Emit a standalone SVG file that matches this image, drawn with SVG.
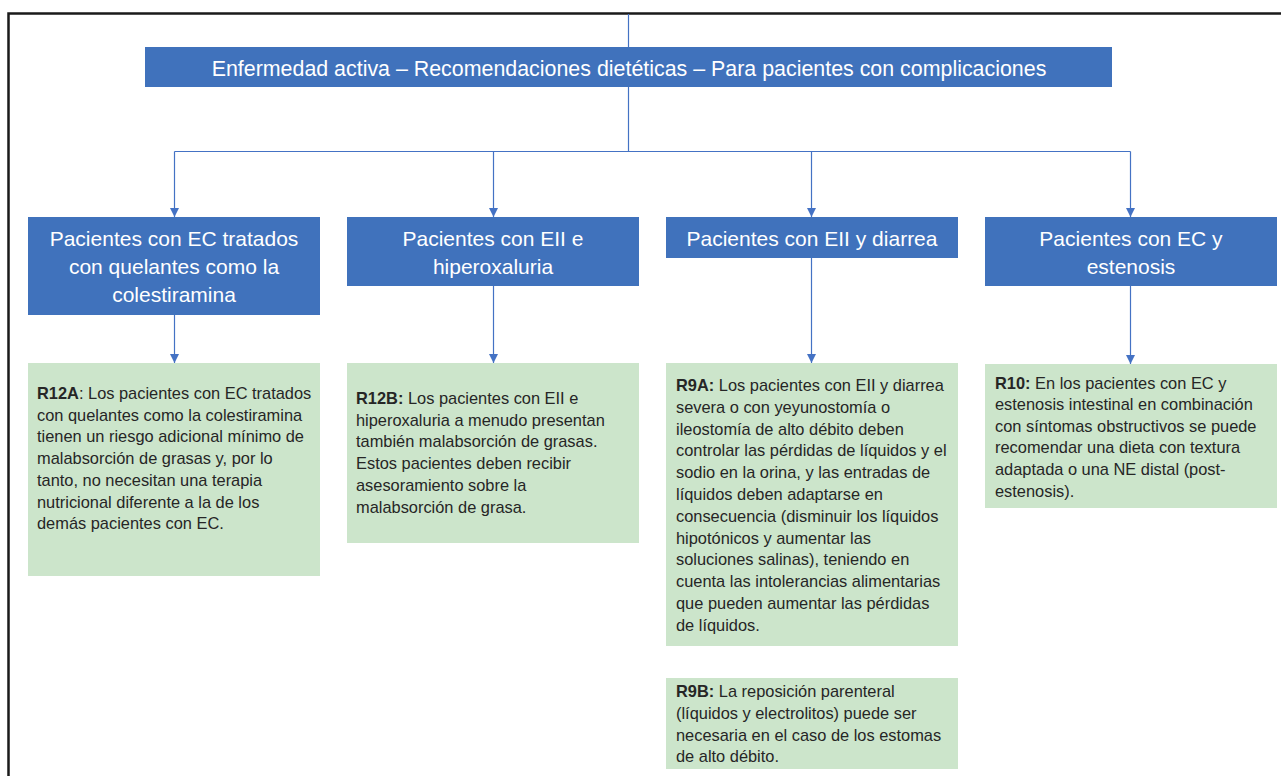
<svg xmlns="http://www.w3.org/2000/svg" width="1281" height="776" viewBox="0 0 1281 776">
<defs>
<style>
.hdr{fill:#4072BC}
.rec{fill:#CCE5CB}
.ht{font-family:"Liberation Sans",Arial,sans-serif;font-size:21px;fill:#ffffff;text-anchor:middle}
.tt{font-size:21.4px}
.bt{font-family:"Liberation Sans",Arial,sans-serif;font-size:16.4px;fill:#262626}
.b{font-weight:bold}
.con{stroke:#4472C4;stroke-width:1.2;fill:none}
.frame{stroke:#1a1a1a;stroke-width:2.5;fill:none}
</style>
<marker id="ah" viewBox="0 0 10 10" refX="10" refY="5" markerWidth="9" markerHeight="9" markerUnits="userSpaceOnUse" orient="auto">
<path d="M0,0 L10,5 L0,10 z" fill="#4472C4"/>
</marker>
</defs>
<rect width="1281" height="776" fill="#ffffff"/>
<path class="frame" d="M8.5,776 L8.5,13.5 L1281,13.5"/>

<g id="connectors">
<path class="con" d="M628.5,14 L628.5,151.5"/>
<path class="con" d="M174.5,151.5 L1130.5,151.5"/>
<path class="con" d="M174.5,151.5 L174.5,217" marker-end="url(#ah)"/>
<path class="con" d="M493.5,151.5 L493.5,217" marker-end="url(#ah)"/>
<path class="con" d="M811.5,151.5 L811.5,217" marker-end="url(#ah)"/>
<path class="con" d="M1130.5,151.5 L1130.5,217" marker-end="url(#ah)"/>
<path class="con" d="M174.5,315 L174.5,363" marker-end="url(#ah)"/>
<path class="con" d="M493.5,286 L493.5,363" marker-end="url(#ah)"/>
<path class="con" d="M811.5,258 L811.5,363" marker-end="url(#ah)"/>
<path class="con" d="M1130.5,286 L1130.5,364" marker-end="url(#ah)"/>
</g>

<g id="title">
<rect class="hdr" x="145" y="47" width="967" height="40"/>
<text class="ht tt" x="629" y="75.5">Enfermedad activa – Recomendaciones dietéticas – Para pacientes con complicaciones</text>
</g>

<g id="n1">
<rect class="hdr" x="28" y="217" width="292" height="98"/>
<text class="ht" x="174" y="246">Pacientes con EC tratados</text>
<text class="ht" x="174" y="274">con quelantes como la</text>
<text class="ht" x="174" y="302">colestiramina</text>
</g>
<g id="n2">
<rect class="hdr" x="347" y="217" width="292" height="69"/>
<text class="ht" x="493" y="246">Pacientes con EII e</text>
<text class="ht" x="493" y="274">hiperoxaluria</text>
</g>
<g id="n3">
<rect class="hdr" x="666" y="217" width="292" height="41"/>
<text class="ht" x="812" y="246">Pacientes con EII y diarrea</text>
</g>
<g id="n4">
<rect class="hdr" x="985" y="217" width="292" height="69"/>
<text class="ht" x="1131" y="246">Pacientes con EC y</text>
<text class="ht" x="1131" y="274">estenosis</text>
</g>

<g id="r12a">
<rect class="rec" x="28" y="363" width="292" height="213"/>
<text class="bt" x="37" y="399"><tspan class="b">R12A</tspan>: Los pacientes con EC tratados</text>
<text class="bt" x="37" y="420.7">con quelantes como la colestiramina</text>
<text class="bt" x="37" y="442.4">tienen un riesgo adicional mínimo de</text>
<text class="bt" x="37" y="464.1">malabsorción de grasas y, por lo</text>
<text class="bt" x="37" y="485.8">tanto, no necesitan una terapia</text>
<text class="bt" x="37" y="507.5">nutricional diferente a la de los</text>
<text class="bt" x="37" y="529.2">demás pacientes con EC.</text>
</g>

<g id="r12b">
<rect class="rec" x="347" y="363" width="292" height="180"/>
<text class="bt" x="356" y="404"><tspan class="b">R12B:</tspan> Los pacientes con EII e</text>
<text class="bt" x="356" y="425.7">hiperoxaluria a menudo presentan</text>
<text class="bt" x="356" y="447.4">también malabsorción de grasas.</text>
<text class="bt" x="356" y="469.1">Estos pacientes deben recibir</text>
<text class="bt" x="356" y="490.8">asesoramiento sobre la</text>
<text class="bt" x="356" y="512.5">malabsorción de grasa.</text>
</g>

<g id="r9a">
<rect class="rec" x="666" y="363" width="292" height="283"/>
<text class="bt" x="676" y="391"><tspan class="b">R9A:</tspan> Los pacientes con EII y diarrea</text>
<text class="bt" x="676" y="412.8">severa o con yeyunostomía o</text>
<text class="bt" x="676" y="434.6">ileostomía de alto débito deben</text>
<text class="bt" x="676" y="456.4">controlar las pérdidas de líquidos y el</text>
<text class="bt" x="676" y="478.2">sodio en la orina, y las entradas de</text>
<text class="bt" x="676" y="500">líquidos deben adaptarse en</text>
<text class="bt" x="676" y="521.8">consecuencia (disminuir los líquidos</text>
<text class="bt" x="676" y="543.6">hipotónicos y aumentar las</text>
<text class="bt" x="676" y="565.4">soluciones salinas), teniendo en</text>
<text class="bt" x="676" y="587.2">cuenta las intolerancias alimentarias</text>
<text class="bt" x="676" y="609">que pueden aumentar las pérdidas</text>
<text class="bt" x="676" y="630.8">de líquidos.</text>
</g>

<g id="r10">
<rect class="rec" x="985" y="364" width="292" height="144"/>
<text class="bt" x="995" y="388.5"><tspan class="b">R10:</tspan> En los pacientes con EC y</text>
<text class="bt" x="995" y="410.1">estenosis intestinal en combinación</text>
<text class="bt" x="995" y="431.7">con síntomas obstructivos se puede</text>
<text class="bt" x="995" y="453.3">recomendar una dieta con textura</text>
<text class="bt" x="995" y="474.9">adaptada o una NE distal (post-</text>
<text class="bt" x="995" y="496.5">estenosis).</text>
</g>

<g id="r9b">
<rect class="rec" x="666" y="678" width="292" height="91"/>
<text class="bt" x="676" y="697"><tspan class="b">R9B:</tspan> La reposición parenteral</text>
<text class="bt" x="676" y="718.8">(líquidos y electrolitos) puede ser</text>
<text class="bt" x="676" y="740.6">necesaria en el caso de los estomas</text>
<text class="bt" x="676" y="762.4">de alto débito.</text>
</g>
</svg>
